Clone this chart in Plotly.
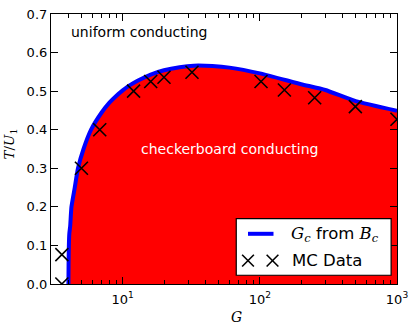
import plotly.graph_objects as go

# Curve G_c from B_c
curve_G = [4.02, 4.03, 4.05, 4.08, 4.14, 4.23, 4.47, 4.72, 5.18, 5.88, 7.0, 8.0, 9.0, 10.0,
           11.0, 12.0, 13.5, 16.0, 20.0, 26.0, 33.0, 45.0, 60.0, 100.0, 200.0, 300.0, 500.0, 1000.0]
curve_T = [0.0, 0.05, 0.1, 0.13, 0.15, 0.2, 0.25, 0.3, 0.35, 0.4, 0.444, 0.47, 0.488, 0.502,
           0.513, 0.521, 0.531, 0.543, 0.554, 0.562, 0.566, 0.565, 0.561, 0.546, 0.518, 0.503, 0.474, 0.449]

# MC data
mc_G = [3.6, 3.6, 5.0, 6.8, 12.0, 16.0, 20.0, 32.0, 102.0, 151.0, 251.0, 497.0, 1000.0]
mc_T = [0.0, 0.076, 0.3, 0.4, 0.5, 0.525, 0.536, 0.549, 0.525, 0.503, 0.483, 0.46, 0.427]

x_tickvals = [10, 100, 1000]
y_tickvals = [0.0, 0.1, 0.2, 0.3, 0.4, 0.5, 0.6, 0.7]

FONT = "DejaVu Sans"
SERIF = "DejaVu Serif"

fig = go.Figure()
fig.add_trace(go.Scatter(x=curve_G, y=curve_T, mode="lines", fill="tozeroy",
                         fillcolor="#ff0000", line=dict(color="#0000ff", width=4, shape="spline", smoothing=0.5),
                         showlegend=False, hoverinfo="skip"))
fig.add_trace(go.Scatter(x=mc_G, y=mc_T, mode="markers",
                         marker=dict(symbol="x-thin", size=13,
                                     line=dict(color="black", width=1.6), color="black"),
                         showlegend=False, hoverinfo="skip"))

L, R, T, B = 51, 11, 7, 43
W, H = 415, 327
pw, ph = W - L - R, H - T - B

def px(x):
    return (x - L) / pw

def py(y):
    return (H - B - y) / ph

fig.update_layout(
    width=W, height=H,
    margin=dict(l=L, r=R, t=T, b=B),
    paper_bgcolor="white", plot_bgcolor="white",
    font=dict(family=FONT, size=13, color="black"),
    xaxis=dict(type="log", range=[0.47712, 3], tickvals=x_tickvals,
               ticktext=["10<sup>1</sup>", "10<sup>2</sup>", "10<sup>3</sup>"],
               ticks="inside", ticklen=7, tickwidth=1, tickcolor="black",
               showline=True, linecolor="black", linewidth=1.2, mirror="ticks",
               showgrid=False, zeroline=False, ticklabeloverflow="allow",
               ticklabelstandoff=3,
               minor=dict(ticks="inside", ticklen=3.5, tickcolor="black", tickwidth=1,
                          dtick="D1", showgrid=False),
               tickfont=dict(size=13)),
    yaxis=dict(range=[0, 0.7], tickvals=y_tickvals, tickformat=".1f",
               ticks="inside", ticklen=7, tickwidth=1, tickcolor="black",
               showline=True, linecolor="black", linewidth=1.2, mirror="ticks",
               showgrid=False, zeroline=False, ticklabeloverflow="allow",
               tickfont=dict(size=13)),
)

sty = "font-family:DejaVu Serif"
anns = [
    dict(x=px(69), y=py(25), text="uniform conducting", xanchor="left", yanchor="middle",
         font=dict(size=14, color="black")),
    dict(x=px(233), y=py(146), text="checkerboard conducting", xanchor="center", yanchor="middle",
         font=dict(size=14, color="white")),
    dict(x=px(240), y=py(318), text="<i>G</i>", xanchor="center", yanchor="middle",
         font=dict(size=14, family=SERIF)),
    dict(x=px(9), y=py(140), text="<i>T</i>/<i>U</i><sub>1</sub>", textangle=-90,
         xanchor="center", yanchor="middle", font=dict(size=13.5, family=SERIF)),
    dict(x=px(294), y=py(233),
         text=f"<i style='{sty}'>G</i><sub><i style='{sty}'>c</i></sub> from <i style='{sty}'>B</i><sub><i style='{sty}'>c</i></sub>",
         xanchor="left", yanchor="middle", font=dict(size=16.5)),
    dict(x=px(295), y=py(260), text="MC Data", xanchor="left", yanchor="middle",
         font=dict(size=16.5)),
]
for a in anns:
    a.update(xref="paper", yref="paper", showarrow=False)
fig.update_layout(annotations=anns)

shapes = [
    dict(type="rect", x0=px(240), x1=px(398), y0=py(217), y1=py(275),
         line=dict(color="black", width=1.2), fillcolor="white"),
    dict(type="line", x0=px(252), x1=px(278), y0=py(232.5), y1=py(232.5),
         line=dict(color="#0000ff", width=4)),
]
for cx in (252, 277):
    cy = 260
    s = 6
    shapes.append(dict(type="line", x0=px(cx - s), x1=px(cx + s), y0=py(cy - s), y1=py(cy + s),
                       line=dict(color="black", width=1.6)))
    shapes.append(dict(type="line", x0=px(cx - s), x1=px(cx + s), y0=py(cy + s), y1=py(cy - s),
                       line=dict(color="black", width=1.6)))
for s_ in shapes:
    s_.update(xref="paper", yref="paper", layer="above")
fig.update_layout(shapes=shapes)

fig.write_html("out.html", config={"displayModeBar": False},
               post_script="document.body.style.margin='0';document.body.style.padding='0';")
